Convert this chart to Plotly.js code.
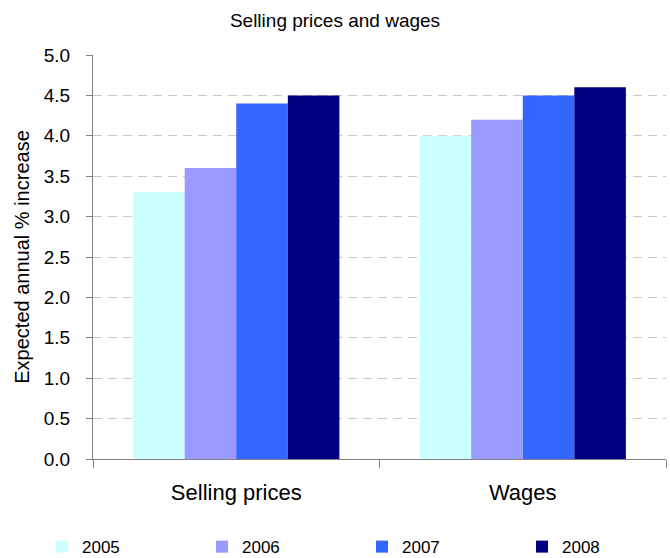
<!DOCTYPE html>
<html>
<head>
<meta charset="utf-8">
<script src="https://cdn.plot.ly/plotly-3.0.1.min.js"></script>
<style>html,body{margin:0;padding:0;background:#fff;}#chart{width:670px;height:558px;}</style>
</head>
<body>
<div id="chart"></div>
<script>
const categories = ["Selling prices", "Wages"];
const years = ["2005", "2006", "2007", "2008"];
const values2005 = [3.3, 4.0];
const values2006 = [3.6, 4.2];
const values2007 = [4.4, 4.5];
const values2008 = [4.5, 4.6];
const yTickVals = [0, 0.5, 1, 1.5, 2, 2.5, 3, 3.5, 4, 4.5, 5];
const colors = ["#CCFFFF", "#9999FF", "#3366FF", "#000080"];
const series = [values2005, values2006, values2007, values2008];

const font = "Liberation Sans, Arial, sans-serif";
const traces = series.map((vals, i) => ({
  type: "bar",
  name: years[i],
  x: categories,
  y: vals,
  marker: {color: colors[i], line: {width: 0}},
  hoverinfo: "x+y+name"
}));

const layout = {
  width: 670, height: 558,
  margin: {l: 93, r: 4, t: 55, b: 99, autoexpand: false},
  paper_bgcolor: "#fff", plot_bgcolor: "#fff",
  font: {family: font, color: "#000"},
  title: {text: "Selling prices and wages", font: {family: font, size: 19, color: "#000"}, x: 0.5, xanchor: "center", y: 0.964, yanchor: "middle"},
  barmode: "group",
  bargap: 0.28,
  bargroupgap: 0,
  showlegend: true,
  legend: {orientation: "h", x: -0.089, xanchor: "left", y: -0.218, yanchor: "middle",
           font: {family: font, size: 17}, entrywidth: 115, entrywidthmode: "pixels",
           itemwidth: 30, traceorder: "normal"},
  xaxis: {type: "category", tickson: "boundaries", ticks: "outside", ticklen: 8, tickcolor: "#808080",
          showline: true, linecolor: "#808080", linewidth: 1, showgrid: false,
          tickfont: {family: font, size: 22}, zeroline: false, ticklabelstandoff: 14},
  yaxis: {range: [0, 5], tickvals: yTickVals, tickformat: ".1f", ticks: "outside", ticklen: 6, tickcolor: "#808080",
          showline: true, linecolor: "#808080", linewidth: 1,
          showgrid: true, gridcolor: "#c8c8c8", griddash: "9px,6px", gridwidth: 1,
          zeroline: false, tickfont: {family: font, size: 19}, ticklabelstandoff: 12,
          title: {text: "Expected annual % increase", font: {family: font, size: 20}, standoff: 8}}
};

Plotly.newPlot("chart", traces, layout, {displayModeBar: false, staticPlot: true});
</script>
</body>
</html>
